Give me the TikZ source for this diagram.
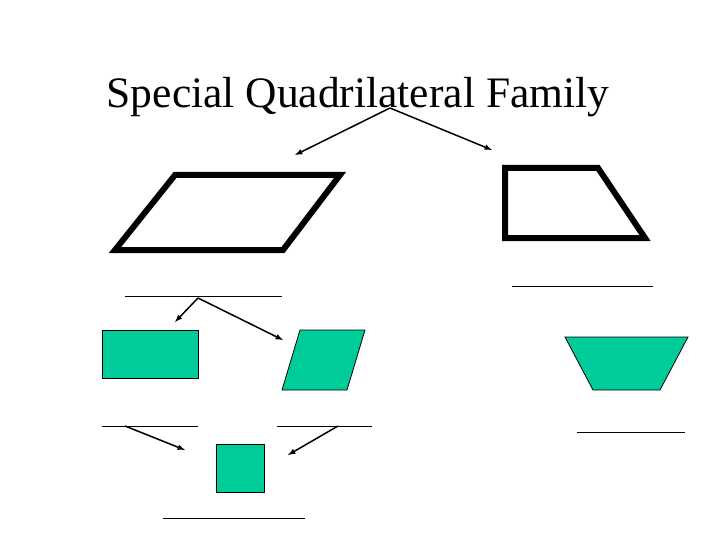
\documentclass[tikz,border=0pt]{standalone}
\usepackage{fontspec}
\setmainfont{Liberation Serif}
\definecolor{qgreen}{HTML}{00CC99}
\begin{document}
\begin{tikzpicture}[x=1pt,y=-1pt,
  thinline/.style={line width=0.8pt},
  arr/.style={line width=1.5pt,-latex},
  greenshape/.style={fill=qgreen,draw=black,line width=0.8pt},
  bold/.style={line width=6pt,line join=miter}]
\useasboundingbox (0,0) rectangle (720,540);
\node (title) at (358,97) {\fontsize{43.5}{48}\selectfont Special Quadrilateral Family};
\coordinate (t) at (390,108);
\coordinate (pa) at (295,155);
\coordinate (tr) at (492,150);
\draw[arr] (t) -- (pa);
\draw[arr] (t) -- (tr);
\draw[bold] (115,250) -- (175,175) -- (340,175) -- (283,250) -- cycle;
\draw[bold] (505,238) -- (505,168) -- (598,168) -- (645,238) -- cycle;
\draw[thinline] (125,296) -- (282,296);
\draw[thinline] (512,286) -- (653,286);
\coordinate (p) at (198,298);
\coordinate (re) at (175,322);
\coordinate (rh) at (283,340);
\draw[arr] (p) -- (re);
\draw[arr] (p) -- (rh);
\draw[greenshape] (102,330) rectangle (198,378);
\draw[greenshape] (282,390) -- (300,330) -- (365,330) -- (347,390) -- cycle;
\draw[greenshape] (565,337) -- (688,337) -- (660,390) -- (593,390) -- cycle;
\draw[thinline] (102,426) -- (198,426);
\draw[thinline] (277,426) -- (372,426);
\draw[thinline] (577,432) -- (685,432);
\coordinate (a1) at (125,426);
\coordinate (a2) at (338,426);
\coordinate (s1) at (185,450);
\coordinate (s2) at (288,455);
\draw[arr] (a1) -- (s1);
\draw[arr] (a2) -- (s2);
\draw[greenshape] (216,444) rectangle (264,492);
\draw[thinline] (163,518) -- (305,518);
\end{tikzpicture}
\end{document}
